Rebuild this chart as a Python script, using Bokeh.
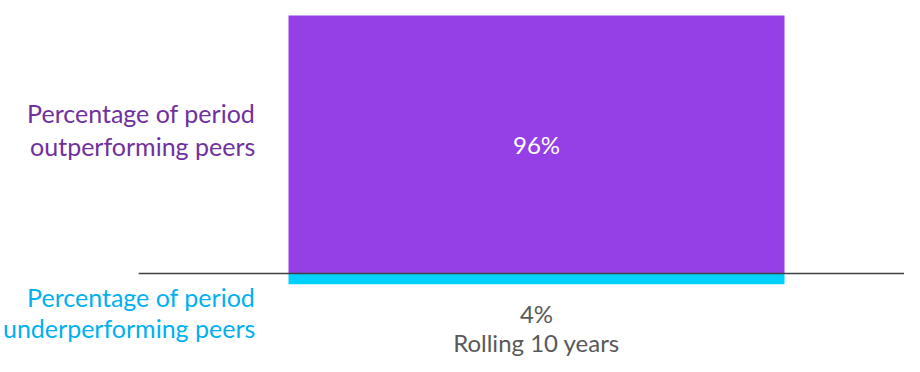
from bokeh.plotting import figure
from bokeh.models import Range1d
from bokeh.core.properties import value
from bokeh.embed import file_html
from bokeh.resources import INLINE

category = ["Rolling 10 years"]
outperforming = [96]
underperforming = [4]
series_labels = ["Percentage of period\noutperforming peers", "Percentage of period\nunderperforming peers"]

PURPLE = "#9440E6"
CYAN = "#00D2FF"
PURPLE_TXT = "#7030A0"
CYAN_TXT = "#00B0F0"
GRAY = "#595959"
FONT = "Lato"
FS = "24px"
FS_LAB = "25px"

W, H = 904, 356
PX = 2.6875  # pixels per percentage point
p = figure(width=W, height=H, output_backend="svg", toolbar_location=None,
           x_range=Range1d(-536 / 496, (W - 536) / 496),
           y_range=Range1d(-(H - 273) / PX, 273 / PX),
           min_border=0, outline_line_color=None)
p.axis.visible = False
p.grid.visible = False
p.background_fill_color = "white"

x = [0]
p.vbar(x=x, width=1, bottom=0, top=outperforming, fill_color=PURPLE, line_color=None)
p.vbar(x=x, width=1, bottom=[-v for v in underperforming], top=0, fill_color=CYAN, line_color=None)

# baseline
p.segment(x0=[-0.802], y0=[0], x1=[0.76], y1=[0], line_color="#404040", line_width=1.5)

# value labels
p.text(x=x, y=[outperforming[0] / 2], text=[f"{outperforming[0]}%"], text_color="white",
       text_align="center", text_baseline="middle", text_font=value(FONT), text_font_size=FS)
p.text(x=x, y=[-14.9], text=[f"{underperforming[0]}%"], text_color=GRAY,
       text_align="center", text_baseline="middle", text_font=value(FONT), text_font_size=FS)
p.text(x=x, y=[-(H - 273) / PX], text=category, text_color=GRAY,
       text_align="center", text_baseline="bottom", text_font=value(FONT), text_font_size=FS)

# series labels on the left, one glyph per line
lab_x = -0.567
out_lines = series_labels[0].split("\n")
und_lines = series_labels[1].split("\n")
p.text(x=[lab_x] * 2, y=[59.9, 47.3], text=out_lines, text_color=PURPLE_TXT,
       text_align="right", text_baseline="middle", text_font=value(FONT), text_font_size=FS_LAB)
p.text(x=[lab_x] * 2, y=[-8.6, -20.1], text=und_lines, text_color=CYAN_TXT,
       text_align="right", text_baseline="middle", text_font=value(FONT), text_font_size=FS_LAB)

open("out.html", "w").write(file_html(p, INLINE))
